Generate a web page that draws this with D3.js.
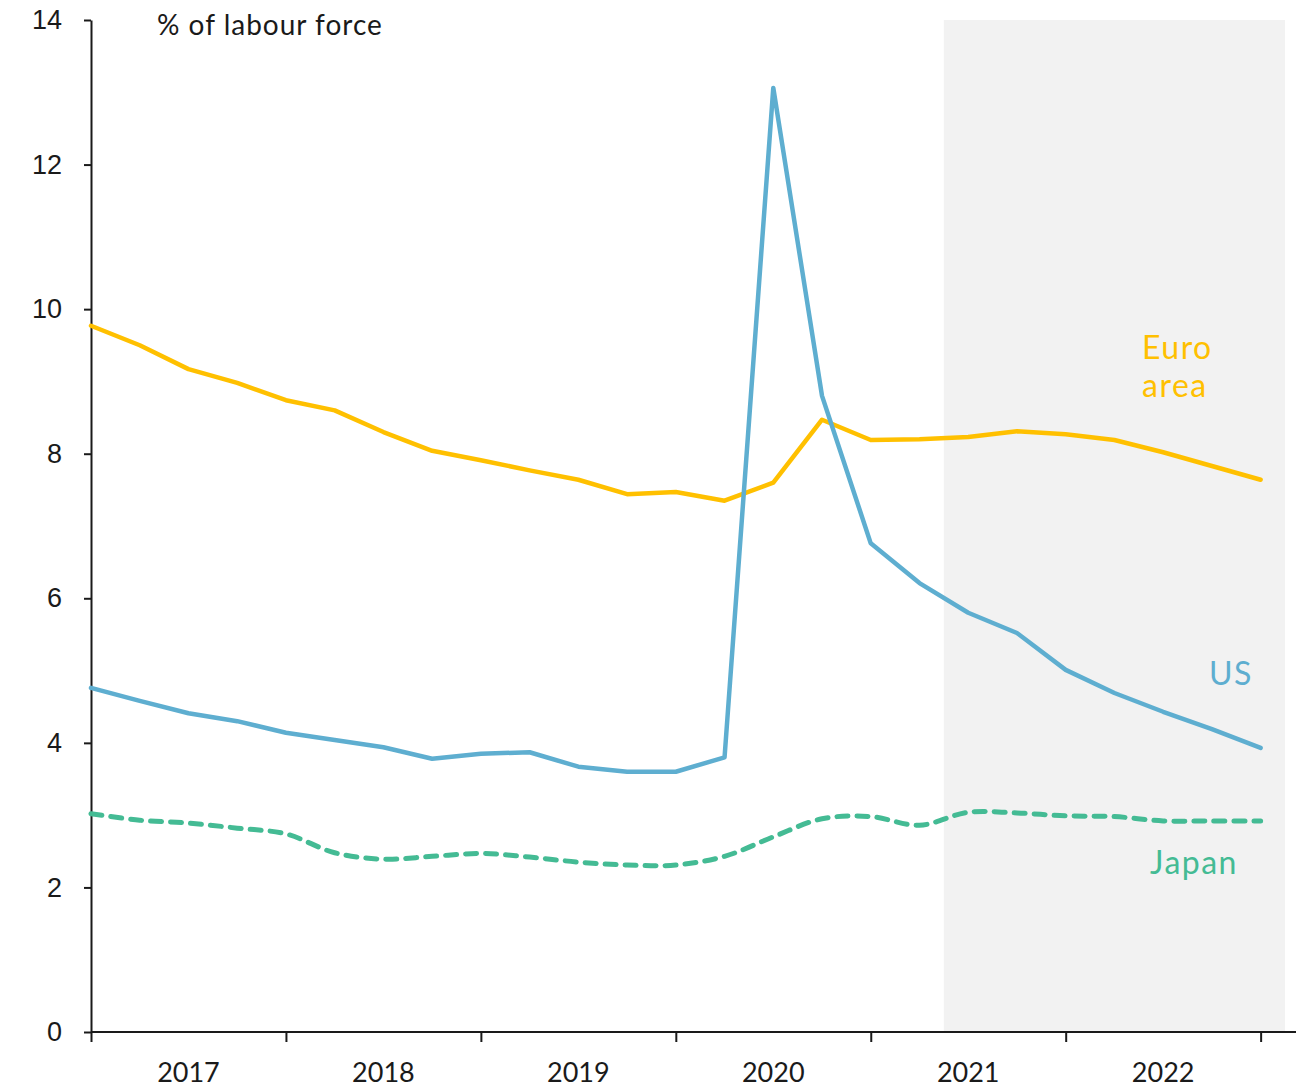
<!DOCTYPE html>
<html>
<head>
<meta charset="utf-8">
<script src="https://cdn.jsdelivr.net/npm/d3@7"></script>
<style>
  body { margin: 0; background: #fff; }
  svg { display: block; font-family: "Lato", "DejaVu Sans", sans-serif; }
  .axis path, .axis line { stroke: #1a1a1a; stroke-width: 2; }
  .axis text { fill: #1a1a1a; font-size: 27px; }
</style>
</head>
<body>
<div id="chart"></div>
<script>
var svgWidth = 1296;
var svgHeight = 1090;

// quarterly points, index 0..24
var years = ["2017", "2018", "2019", "2020", "2021", "2022"];
var euroArea = [9.77, 9.50, 9.17, 8.98, 8.74, 8.60, 8.30, 8.04, 7.91, 7.77, 7.64, 7.44, 7.47,
                7.35, 7.60, 8.47, 8.19, 8.20, 8.23, 8.31, 8.27, 8.19, 8.02, 7.83, 7.64];
var us = [4.76, 4.58, 4.41, 4.30, 4.14, 4.04, 3.94, 3.78, 3.85, 3.87, 3.67, 3.60, 3.60,
          3.80, 13.06, 8.80, 6.76, 6.21, 5.80, 5.52, 5.01, 4.69, 4.43, 4.19, 3.93];
var japan = [3.02, 2.93, 2.89, 2.82, 2.74, 2.48, 2.39, 2.43, 2.47, 2.42, 2.35, 2.31, 2.31,
             2.43, 2.70, 2.95, 2.98, 2.86, 3.04, 3.03, 2.99, 2.98, 2.92, 2.92, 2.92];
var yTicks = [0, 2, 4, 6, 8, 10, 12, 14];
var forecastStart = 17.5;

var svg = d3.select("#chart")
  .append("svg")
  .attr("width", svgWidth)
  .attr("height", svgHeight);

var x = d3.scaleLinear().domain([0, 24.5]).range([91, 1285]);
var y = d3.scaleLinear().domain([0, 14]).range([1032, 20]);

// shaded forecast period
svg.append("rect")
  .attr("x", x(forecastStart))
  .attr("y", y(14))
  .attr("width", x(24.5) - x(forecastStart))
  .attr("height", y(0) - y(14))
  .attr("fill", "#f2f2f2");

// y axis
svg.append("g")
  .attr("class", "axis")
  .attr("transform", "translate(91,0)")
  .call(d3.axisLeft(y).tickValues(yTicks).tickSize(7).tickSizeOuter(0).tickPadding(22));

// x axis
var xAxis = svg.append("g")
  .attr("class", "axis")
  .attr("transform", "translate(0,1032)")
  .call(d3.axisBottom(x).tickValues(d3.range(0, 25, 4)).tickSize(10).tickSizeOuter(0).tickFormat(""));
xAxis.select(".domain").attr("d", "M91,0H1296");

svg.append("g")
  .selectAll("text")
  .data(years)
  .enter()
  .append("text")
  .attr("x", (d, i) => x(i * 4 + 2))
  .attr("y", 1082)
  .attr("text-anchor", "middle")
  .attr("font-size", 27)
  .attr("fill", "#1a1a1a")
  .text(d => d);

svg.append("text")
  .attr("x", 157)
  .attr("y", 35)
  .attr("font-size", 28)
  .attr("letter-spacing", 1)
  .attr("fill", "#1a1a1a")
  .text("% of labour force");

var line = d3.line()
  .x((d, i) => x(i))
  .y(d => y(d));

var smoothLine = d3.line()
  .x((d, i) => x(i))
  .y(d => y(d))
  .curve(d3.curveCatmullRom);

svg.append("path")
  .datum(japan)
  .attr("d", smoothLine)
  .attr("fill", "none")
  .attr("stroke", "#44bb94")
  .attr("stroke-width", 5)
  .attr("stroke-dasharray", "11,9")
  .attr("stroke-linecap", "round");

svg.append("path")
  .datum(euroArea)
  .attr("d", line)
  .attr("fill", "none")
  .attr("stroke", "#ffc000")
  .attr("stroke-width", 4.5)
  .attr("stroke-linecap", "round")
  .attr("stroke-linejoin", "round");

svg.append("path")
  .datum(us)
  .attr("d", line)
  .attr("fill", "none")
  .attr("stroke", "#5eaed0")
  .attr("stroke-width", 4.5)
  .attr("stroke-linecap", "round")
  .attr("stroke-linejoin", "round");

// series labels
var labels = [
  { lines: ["Euro", "area"], x: 1142, y: 359, color: "#ffc000" },
  { lines: ["US"], x: 1209, y: 685, color: "#5eaed0" },
  { lines: ["Japan"], x: 1150, y: 874, color: "#44bb94" }
];
labels.forEach(function(l) {
  var t = svg.append("text")
    .attr("x", l.x)
    .attr("y", l.y)
    .attr("font-size", 32)
    .attr("letter-spacing", 1.5)
    .attr("fill", l.color);
  l.lines.forEach(function(s, i) {
    t.append("tspan").attr("x", l.x).attr("dy", i === 0 ? 0 : 38).text(s);
  });
});
</script>
</body>
</html>
